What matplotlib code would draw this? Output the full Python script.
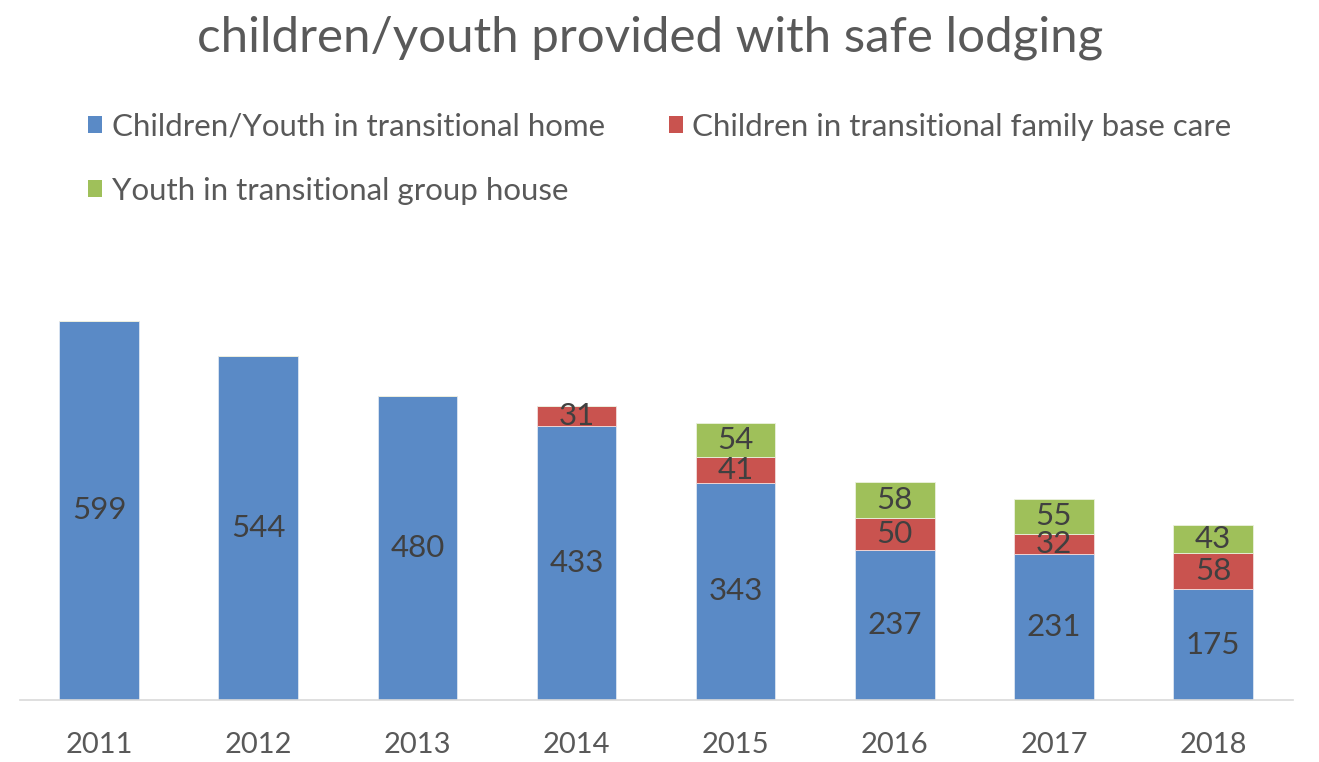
import matplotlib
matplotlib.use("Agg")
import matplotlib.pyplot as plt
from matplotlib.patches import Patch
import numpy as np

years = ["2011", "2012", "2013", "2014", "2015", "2016", "2017", "2018"]
home = [599, 544, 480, 433, 343, 237, 231, 175]
family = [0, 0, 0, 31, 41, 50, 32, 58]
group = [0, 0, 0, 0, 54, 58, 55, 43]
series_names = ["Children/Youth in transitional home",
                "Children in transitional family base care",
                "Youth in transitional group house"]
colors = ["#5A8AC6", "#C9534F", "#9FC05A"]

plt.rcParams['font.family'] = ['Lato', 'DejaVu Sans']

fig = plt.figure(figsize=(13.19, 7.62), dpi=100)
ax = fig.add_axes([0.0148, 0.0814, 0.9652, 0.5813])

x = np.arange(len(years))
w = 0.5
home_a = np.array(home)
fam_a = np.array(family)
grp_a = np.array(group)

ax.bar(x, home_a, w, color=colors[0], edgecolor="#DDE6F2", linewidth=0.6)
ax.bar(x, fam_a, w, bottom=home_a, color=colors[1], edgecolor="#F2DCDB", linewidth=0.6)
ax.bar(x, grp_a, w, bottom=home_a + fam_a, color=colors[2], edgecolor="#EBF1DE", linewidth=0.6)

lab_color = "#404040"
fs_lab = 22.5
for i in range(len(years)):
    ax.text(x[i], home_a[i] / 2, str(home[i]), ha="center", va="center",
            fontsize=fs_lab, color=lab_color)
    if family[i] > 0:
        ax.text(x[i], home_a[i] + fam_a[i] / 2, str(family[i]), ha="center",
                va="center", fontsize=fs_lab, color=lab_color)
    if group[i] > 0:
        ax.text(x[i], home_a[i] + fam_a[i] + grp_a[i] / 2, str(group[i]),
                ha="center", va="center", fontsize=fs_lab, color=lab_color)

ax.set_xlim(-0.5, len(years) - 0.5)
ax.set_ylim(0, 700)
ax.set_xticks(x)
ax.set_xticklabels(years, fontsize=21, color="#595959")
ax.tick_params(axis="x", length=0, pad=23)
ax.set_yticks([])
for s in ["top", "right", "left"]:
    ax.spines[s].set_visible(False)
ax.spines["bottom"].set_color("#D9D9D9")
ax.spines["bottom"].set_linewidth(1.2)

fig.text(0.493, 0.95, "children/youth provided with safe lodging", ha="center",
         va="center", fontsize=35.5, color="#595959")

handles = [Patch(facecolor=colors[0]), Patch(facecolor=colors[2]), Patch(facecolor=colors[1])]
labels = [series_names[0], series_names[2], series_names[1]]
leg = fig.legend(handles, labels, ncol=2, loc="upper left",
                 bbox_to_anchor=(0.067, 0.852), frameon=False, fontsize=22.5,
                 handlelength=0.45, handleheight=0.45, handletextpad=0.3,
                 columnspacing=2.05, labelspacing=1.15, borderpad=0, borderaxespad=0)
for t in leg.get_texts():
    t.set_color("#595959")

fig.savefig("out.png", dpi=100, facecolor="white")
